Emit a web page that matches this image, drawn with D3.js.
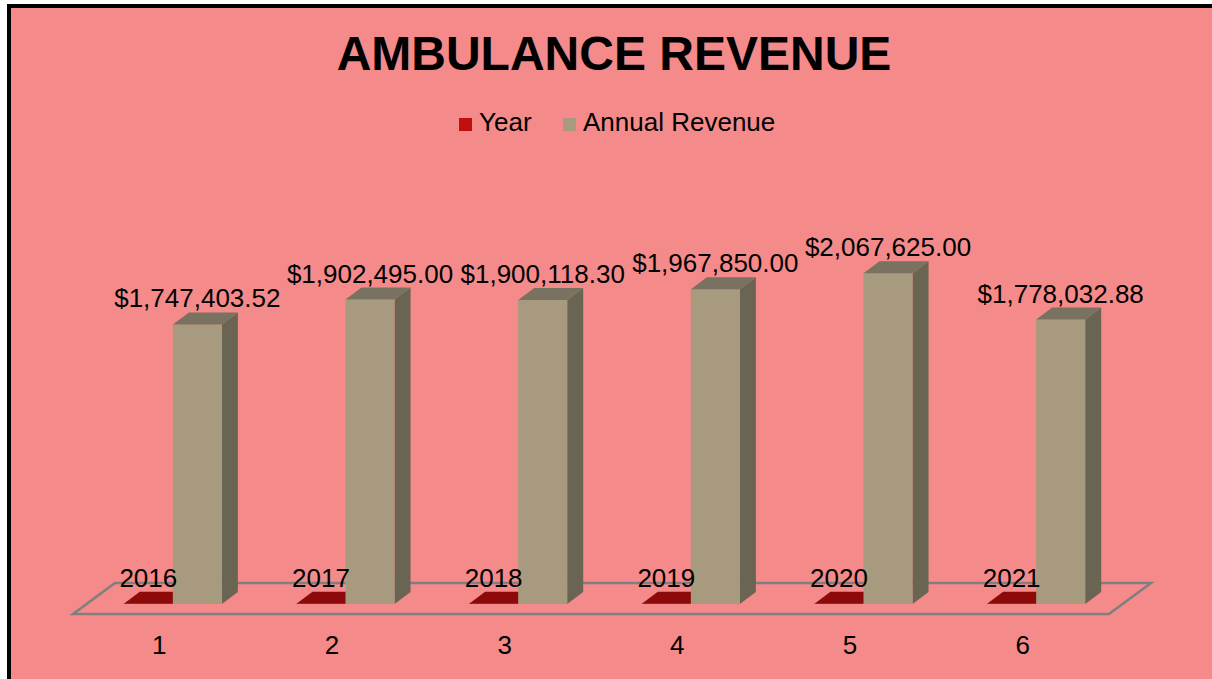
<!DOCTYPE html>
<html>
<head>
<meta charset="utf-8">
<script src="https://cdn.jsdelivr.net/npm/d3@7"></script>
<style>
  html, body { margin: 0; padding: 0; background: #ffffff; }
  svg { display: block; }
  text { font-family: "Liberation Sans", Arial, sans-serif; }
</style>
</head>
<body>
<svg id="chart" width="1212" height="679"></svg>
<script>
// ---- data ----
const categories = ["1", "2", "3", "4", "5", "6"];
const seriesNames = ["Year", "Annual Revenue"];
const yearValues = [2016, 2017, 2018, 2019, 2020, 2021];
const revenueValues = [1747403.52, 1902495.00, 1900118.30, 1967850.00, 2067625.00, 1778032.88];
const titleText = "AMBULANCE REVENUE";

// ---- styling / layout ----
const W = 1212, H = 679;
const bg = "#F58A8A";
const colors = {
  "Year": { front: "#C00F0F", top: "#8C0A0A", side: "#6E0808", legend: "#C00F0F" },
  "Annual Revenue": { front: "#A79A7E", top: "#7A7260", side: "#6A6452", legend: "#A79A7E" }
};
const depthDx = 16, depthDy = 12;           // bar depth offsets
const floorFront = { dx: -13.5, dy: 10 };   // floor front edge offset relative to bar base
const floorBack = { dx: 28.5, dy: -21 };    // floor back edge offset

const svg = d3.select("#chart");

// background + border
svg.append("rect").attr("x", 9).attr("y", 6).attr("width", 1400).attr("height", 900)
  .attr("fill", bg).attr("stroke", "#000").attr("stroke-width", 4);

// scales
const x = d3.scaleBand().domain(categories).range([86.5, 1122.5])
  .paddingInner(0.432).paddingOuter(0.216);
const xs = d3.scaleBand().domain(seriesNames).range([0, x.bandwidth()]).padding(0);
const y = d3.scaleLinear().domain([0, 2500000]).range([604, 204]);
const base = y(0);

// floor
const fx0 = x.range()[0], fx1 = x.range()[1];
const floorPts = [
  [fx0 + floorFront.dx, base + floorFront.dy],
  [fx0 + floorBack.dx, base + floorBack.dy],
  [fx1 + floorBack.dx, base + floorBack.dy],
  [fx1 + floorFront.dx, base + floorFront.dy]
];
svg.append("polygon").attr("points", floorPts.map(p => p.join(",")).join(" "))
  .attr("fill", "none").attr("stroke", "#7F7F7F").attr("stroke-width", 2.5)
  .attr("stroke-linejoin", "miter");

// bars
const rows = categories.map((c, i) => ({ cat: c, vals: [
  { s: "Year", v: yearValues[i] },
  { s: "Annual Revenue", v: revenueValues[i] }
]}));

function drawBar(g, x0, w, v, col) {
  const x1 = x0 + w, yt = y(v), yb = base;
  // side
  g.append("polygon").attr("points", [
    [x1, yt], [x1 + depthDx, yt - depthDy], [x1 + depthDx, yb - depthDy], [x1, yb]
  ].map(p => p.join(",")).join(" ")).attr("fill", col.side);
  // front
  g.append("rect").attr("x", x0).attr("y", yt).attr("width", w).attr("height", Math.max(0, yb - yt))
    .attr("fill", col.front);
  // top
  g.append("polygon").attr("points", [
    [x0, yt], [x0 + depthDx, yt - depthDy], [x1 + depthDx, yt - depthDy], [x1, yt]
  ].map(p => p.join(",")).join(" ")).attr("fill", col.top);
}

const barG = svg.append("g");
rows.forEach(r => {
  const g = barG.append("g");
  r.vals.forEach(d => drawBar(g, x(r.cat) + xs(d.s), xs.bandwidth(), d.v, colors[d.s]));
});

// data labels
const fmtMoney = v => "$" + d3.format(",.2f")(v);
const lblG = svg.append("g").attr("font-size", 26).attr("fill", "#000").attr("text-anchor", "middle");
rows.forEach(r => {
  r.vals.forEach(d => {
    const cx = x(r.cat) + xs(d.s) + xs.bandwidth() / 2;
    lblG.append("text").attr("x", cx).attr("y", y(d.v) - 17)
      .text(d.s === "Year" ? String(d.v) : fmtMoney(d.v));
  });
});

// category axis labels (at floor front edge)
svg.append("g").attr("font-size", 26).attr("text-anchor", "middle")
  .selectAll("text").data(categories).join("text")
  .attr("x", d => x(d) + x.bandwidth() / 2 + floorFront.dx)
  .attr("y", 654)
  .text(d => d);

// title
svg.append("text").attr("x", 614).attr("y", 70).attr("text-anchor", "middle")
  .attr("font-size", 48).attr("font-weight", "bold").text(titleText);

// legend
const legendItems = [
  { name: "Year", x: 459 },
  { name: "Annual Revenue", x: 563 }
];
const lg = svg.append("g");
legendItems.forEach(it => {
  lg.append("rect").attr("x", it.x).attr("y", 118).attr("width", 13).attr("height", 13)
    .attr("fill", colors[it.name].legend);
  lg.append("text").attr("x", it.x + 20).attr("y", 131).attr("font-size", 26).text(it.name);
});
</script>
</body>
</html>
